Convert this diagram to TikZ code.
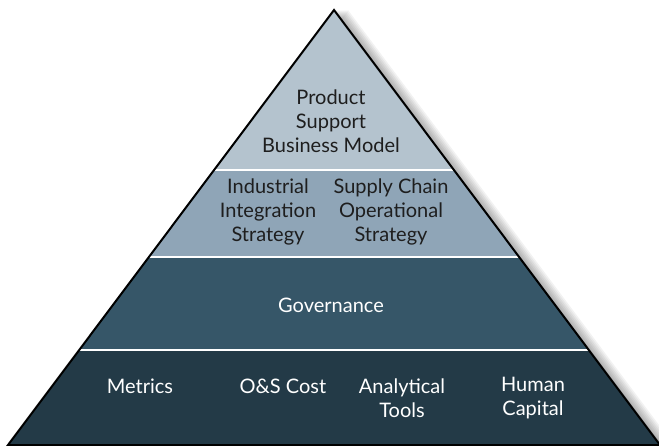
\documentclass[tikz,border=0pt]{standalone}
\usepackage{fontspec}
\setmainfont{Lato}
\definecolor{tierone}{HTML}{B4C3CE}
\definecolor{tiertwo}{HTML}{8FA5B7}
\definecolor{tierthree}{HTML}{365668}
\definecolor{tierfour}{HTML}{233A47}
\definecolor{darktext}{HTML}{1E1E1E}
\tikzset{
  label/.style={align=center,font=\fontsize{20}{24}\selectfont,inner sep=0pt},
  darklabel/.style={label,text=darktext},
  lightlabel/.style={label,text=white},
  sep/.style={white,line width=1.5pt}
}
\begin{document}
\begin{tikzpicture}[x=1pt,y=-1pt]
	\useasboundingbox (0,0) rectangle (659,446);
	\coordinate (apex) at (334,10);
	\coordinate (bl) at (8,445);
	\coordinate (br) at (660,445);
	% soft shadow on the right
	\foreach \d in {2,4,...,14}
		\fill[black,opacity=0.05] ([xshift=\d]apex) -- ([xshift=\d]bl) -- ([xshift=\d]br) -- cycle;
	\begin{scope}
		\clip (apex) -- (bl) -- (br) -- cycle;
		\fill[tierone] (0,0) rectangle (660,170);
		\fill[tiertwo] (0,170) rectangle (660,257);
		\fill[tierthree] (0,257) rectangle (660,350);
		\fill[tierfour] (0,350) rectangle (660,446);
		\draw[sep] (0,170) -- (660,170);
		\draw[sep] (0,257) -- (660,257);
		\draw[sep] (0,350) -- (660,350);
	\end{scope}
	\draw[line width=2pt,line join=miter] (apex) -- (bl) -- (br) -- cycle;
	% labels
	\node[darklabel] (model) at (331,121) {Product\\Support\\Business Model};
	\node[darklabel] (industrial) at (268,212) {Industrial\\Integration\\Strategy};
	\node[darklabel] (supply) at (391,212) {Supply Chain\\Operational\\Strategy};
	\node[lightlabel] (gov) at (331,305) {Governance};
	\node[lightlabel] (metrics) at (140,386) {Metrics};
	\node[lightlabel] (cost) at (283,386) {O\&S Cost};
	\node[lightlabel] (tools) at (402,398) {Analytical\\Tools};
	\node[lightlabel] (human) at (533,398) {Human\\Capital};
\end{tikzpicture}
\end{document}
